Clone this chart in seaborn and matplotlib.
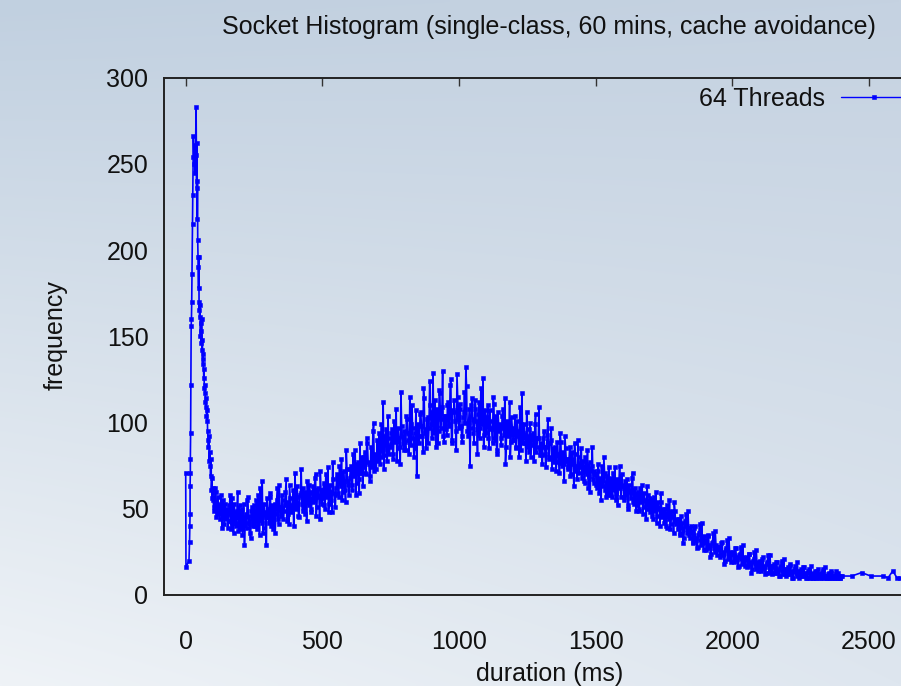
import numpy as np
import pandas as pd
import matplotlib
matplotlib.use("Agg")
import matplotlib.pyplot as plt
import seaborn as sns

# ---------------- data ----------------
spike_x = [0, 1, 12, 14, 15, 16, 16, 17, 17, 18, 19, 20, 21, 22, 23, 25, 26, 27, 28, 30,
           33, 35, 38, 39, 40, 41, 42, 43, 44, 45, 46, 47, 48, 49, 50, 51, 52, 54, 55, 56,
           57, 58, 60, 61, 62, 63, 64, 66, 67, 68, 70, 71, 72, 74, 75, 76, 78, 79, 80, 82,
           83, 85, 86, 88, 90, 91, 93, 94, 96, 97, 99]
spike_y = [71, 16, 20, 31, 40, 47, 63, 71, 79, 94, 122, 156, 160, 170, 186, 215, 232, 254, 266, 250,
           261, 245, 283, 255, 236, 262, 218, 240, 206, 196, 190, 178, 196, 165, 170, 161, 168, 150, 158, 153,
           146, 160, 142, 148, 137, 134, 140, 126, 131, 120, 117, 122, 112, 109, 114, 104, 101, 107, 95, 90,
           86, 92, 78, 83, 75, 69, 79, 61, 68, 56, 62]

# bins at 100, 105, ..., 2400
band_a_start = 100.0
band_step = 5.0
band_a_100_595 = [
    55, 49, 60, 47, 52, 44, 58, 50, 41, 53,
    47, 39, 52, 43, 56, 36, 48, 42, 60, 45,
    38, 50, 44, 29, 47, 55, 41, 36, 49, 43,
    52, 40, 46, 58, 35, 44, 66, 39, 48, 29,
    50, 42, 57, 45, 38, 53, 47, 62, 41, 51,
    46, 55, 49, 60, 43, 54, 64, 48, 52, 40,
    71, 50, 57, 45, 59, 53, 62, 47, 56, 66,
    52, 60, 48, 63, 55, 70, 51, 58, 44, 61,
    56, 65, 50, 62, 74, 53, 60, 48, 67, 58,
    62, 70, 57, 68, 79, 60, 66, 54, 73, 64,
]
band_a_600_1095 = [
    68, 75, 61, 72, 84, 65, 77, 59, 71, 80,
    74, 83, 70, 88, 76, 66, 81, 95, 72, 79,
    90, 78, 86, 99, 80, 73, 92, 84, 104, 82,
    87, 96, 79, 93, 108, 85, 91, 76, 98, 88,
    95, 84, 102, 90, 115, 87, 97, 80, 94, 69,
    99, 88, 106, 92, 120, 94, 85, 103, 97, 110,
    91, 129, 100, 86, 108, 95, 117, 102, 130, 89,
    104, 93, 112, 98, 125, 90, 106, 101, 84, 115,
    97, 108, 92, 103, 118, 132, 95, 100, 75, 110,
    102, 88, 113, 96, 105, 91, 120, 99, 86, 107,
]
band_a_1100_1595 = [
    94, 110, 85, 101, 97, 115, 90, 104, 82, 99,
    98, 87, 108, 93, 76, 101, 92, 112, 89, 96,
    90, 104, 86, 95, 80, 99, 117, 88, 93, 78,
    92, 83, 100, 87, 94, 78, 105, 86, 91, 81,
    88, 76, 95, 82, 86, 102, 79, 90, 73, 85,
    83, 72, 89, 78, 94, 75, 81, 66, 85, 79,
    74, 86, 70, 79, 63, 82, 75, 90, 71, 77,
    68, 78, 65, 73, 84, 69, 60, 75, 67, 72,
    70, 62, 76, 64, 55, 69, 80, 61, 66, 58,
    60, 68, 57, 65, 74, 59, 52, 66, 62, 70,
]
band_a_1600_2095 = [
    63, 55, 58, 67, 50, 61, 56, 71, 53, 59,
    52, 60, 49, 57, 64, 51, 55, 44, 58, 53,
    48, 55, 44, 52, 60, 46, 50, 40, 54, 47,
    42, 50, 39, 47, 55, 41, 45, 36, 49, 43,
    38, 44, 35, 42, 30, 40, 47, 36, 39, 33,
    36, 30, 39, 32, 27, 35, 41, 29, 33, 26,
    31, 26, 34, 28, 22, 30, 36, 25, 29, 23,
    27, 22, 30, 24, 18, 26, 32, 21, 25, 19,
    24, 19, 27, 21, 16, 23, 28, 18, 22, 17,
    21, 16, 24, 18, 13, 20, 25, 15, 19, 14,
]
band_a_2100_2400 = [
    19, 14, 21, 16, 12, 18, 23, 13, 17, 12,
    17, 13, 19, 14, 11, 16, 20, 12, 15, 11,
    15, 12, 18, 13, 10, 14, 17, 11, 14, 10,
    14, 11, 16, 12, 10, 13, 15, 10, 12, 10,
    13, 10, 14, 11, 10, 12, 15, 10, 11, 10,
    12, 10, 13, 10, 11, 10, 14, 10, 11, 10,
    11,
]

# bins at 102.5, 107.5, ..., 2397.5
band_b_start = 102.5
band_b_100_595 = [
    51, 62, 45, 57, 48, 53, 39, 55, 47, 44,
    50, 43, 58, 38, 45, 53, 40, 49, 37, 52,
    48, 35, 53, 42, 39, 57, 46, 33, 51, 40,
    43, 55, 38, 49, 62, 42, 36, 53, 45, 56,
    45, 59, 40, 52, 48, 36, 55, 44, 64, 47,
    58, 44, 52, 67, 47, 41, 56, 50, 61, 53,
    52, 63, 46, 58, 73, 49, 55, 60, 43, 57,
    64, 50, 59, 54, 68, 46, 62, 57, 72, 53,
    61, 52, 70, 57, 48, 64, 55, 77, 59, 51,
    68, 59, 75, 63, 55, 72, 61, 84, 66, 58,
]
band_b_600_1095 = [
    73, 64, 82, 69, 58, 76, 67, 88, 71, 63,
    80, 71, 91, 77, 69, 86, 74, 100, 82, 73,
    83, 94, 76, 89, 112, 81, 96, 78, 91, 86,
    94, 82, 101, 89, 78, 97, 86, 118, 92, 84,
    89, 104, 94, 82, 99, 110, 91, 85, 107, 96,
    92, 105, 98, 83, 114, 96, 102, 88, 124, 99,
    106, 94, 113, 101, 88, 119, 97, 109, 92, 104,
    96, 110, 99, 122, 88, 107, 113, 95, 128, 102,
    111, 98, 89, 106, 100, 121, 92, 108, 97, 114,
    94, 108, 101, 82, 112, 97, 104, 126, 93, 100,
]
band_b_1100_1595 = [
    103, 91, 107, 96, 88, 111, 99, 84, 106, 95,
    91, 104, 97, 114, 86, 99, 93, 80, 103, 90,
    97, 85, 101, 92, 109, 84, 94, 99, 88, 106,
    86, 96, 80, 93, 88, 99, 83, 91, 109, 85,
    81, 91, 86, 74, 93, 80, 88, 97, 83, 77,
    86, 77, 82, 71, 89, 83, 76, 92, 78, 73,
    79, 69, 83, 76, 88, 72, 67, 80, 74, 85,
    74, 66, 80, 70, 62, 77, 72, 86, 65, 70,
    64, 72, 59, 68, 75, 63, 71, 57, 69, 74,
    66, 58, 71, 61, 55, 67, 63, 75, 57, 64,
]
band_b_1600_2095 = [
    57, 66, 61, 52, 64, 59, 68, 54, 62, 49,
    58, 50, 62, 54, 47, 59, 53, 63, 50, 56,
    53, 46, 57, 49, 42, 54, 51, 59, 45, 50,
    47, 40, 52, 44, 38, 49, 46, 54, 41, 44,
    42, 36, 46, 39, 33, 43, 38, 49, 35, 40,
    37, 31, 40, 33, 28, 36, 32, 42, 30, 34,
    32, 27, 35, 29, 24, 31, 27, 37, 26, 28,
    28, 23, 31, 25, 20, 27, 24, 33, 22, 24,
    25, 20, 27, 22, 17, 24, 21, 29, 19, 21,
    22, 17, 24, 19, 15, 21, 18, 26, 16, 18,
]
band_b_2100_2395 = [
    20, 15, 22, 17, 13, 19, 16, 23, 14, 16,
    18, 13, 19, 15, 11, 17, 14, 21, 12, 14,
    16, 12, 17, 14, 10, 15, 13, 19, 11, 13,
    15, 11, 16, 13, 10, 14, 12, 17, 10, 12,
    14, 10, 15, 12, 10, 13, 11, 16, 10, 11,
    13, 10, 14, 11, 10, 12, 10, 13, 10, 11,
]

tail_x = [2437, 2473, 2506, 2550, 2570, 2587, 2602, 2615]
tail_y = [11, 13, 11, 11, 10, 14, 10, 10]

series_label = "64 Threads"
title = "Socket Histogram (single-class, 60 mins, cache avoidance)"
x_label = "duration (ms)"
y_label = "frequency"
x_ticks = [0, 500, 1000, 1500, 2000, 2500]
y_ticks = [0, 50, 100, 150, 200, 250, 300]

band_a = band_a_100_595 + band_a_600_1095 + band_a_1100_1595 + band_a_1600_2095 + band_a_2100_2400
band_b = band_b_100_595 + band_b_600_1095 + band_b_1100_1595 + band_b_1600_2095 + band_b_2100_2395
band_a_x = list(band_a_start + band_step * np.arange(len(band_a)))
band_b_x = list(band_b_start + band_step * np.arange(len(band_b)))

band_df = pd.DataFrame({"duration": band_a_x + band_b_x, "frequency": band_a + band_b})
band_df = band_df.sort_values("duration", kind="mergesort")
df = pd.concat([
    pd.DataFrame({"duration": spike_x, "frequency": spike_y}),
    band_df,
    pd.DataFrame({"duration": tail_x, "frequency": tail_y}),
], ignore_index=True)

# ---------------- figure ----------------
sns.set_style("white")
plt.rcParams["font.family"] = ["Liberation Sans", "DejaVu Sans"]
W, H = 901, 686
fig = plt.figure(figsize=(W / 100, H / 100), dpi=100)

# gradient background
tl = np.array([193, 208, 224]) / 255
tr = np.array([197, 210, 225]) / 255
bl = np.array([239, 243, 247]) / 255
br = np.array([222, 230, 239]) / 255
u = np.linspace(0, 1, 200)[None, :, None]
v = np.linspace(0, 1, 160)[:, None, None]
grad = (1 - v) * ((1 - u) * tl + u * tr) + v * ((1 - u) * bl + u * br)
bg = fig.add_axes([0, 0, 1, 1], zorder=-10)
bg.imshow(grad, aspect="auto", extent=[0, 1, 0, 1], interpolation="bilinear")
bg.axis("off")

left = 163.7 / W
bottom = 1 - 595 / H
top = 1 - 77.7 / H
ax = fig.add_axes([left, bottom, 1 - left, top - bottom])
ax.patch.set_alpha(0)

sns.lineplot(data=df, x="duration", y="frequency", ax=ax, estimator=None, sort=False,
             color="#0000ff", linewidth=1.2, marker="s", markersize=3.2,
             markeredgewidth=0.4, markeredgecolor="#0000ff", label=series_label)

ax.set_xlim(-80.5, 2617)
ax.set_ylim(0, 300)
ax.set_xticks(x_ticks)
ax.set_yticks(y_ticks)
fs = 18
ax.tick_params(axis="both", direction="in", length=6, width=1.0, color="#333333",
               labelsize=fs, labelcolor="#111111", top=True, right=False)
ax.tick_params(axis="x", pad=25)
ax.tick_params(axis="y", pad=11)
for s in ["left", "bottom", "top"]:
    ax.spines[s].set_color("#222222")
    ax.spines[s].set_linewidth(1.4)
ax.spines["right"].set_visible(False)

ax.set_xlabel("")
ax.set_ylabel("")
fig.text(550 / W, 1 - 674 / H, x_label, ha="center", va="center", fontsize=fs, color="#111111")
fig.text(56 / W, 1 - 335 / H, y_label, ha="center", va="center", fontsize=fs, rotation=90,
         color="#111111")
fig.text(549 / W, 1 - 27 / H, title, ha="center", va="center", fontsize=fs, color="#111111")

leg = ax.legend(loc="upper right", bbox_to_anchor=(906 / W, 1 - 87 / H),
                bbox_transform=fig.transFigure, frameon=False, markerfirst=False,
                fontsize=fs, handlelength=2.6, handletextpad=0.65, borderpad=0,
                borderaxespad=0, numpoints=1)
for t in leg.get_texts():
    t.set_color("#111111")
for h in leg.legend_handles:
    h.set_linewidth(1.0)
    h.set_markersize(3.0)

fig.savefig("out.png", dpi=100)
